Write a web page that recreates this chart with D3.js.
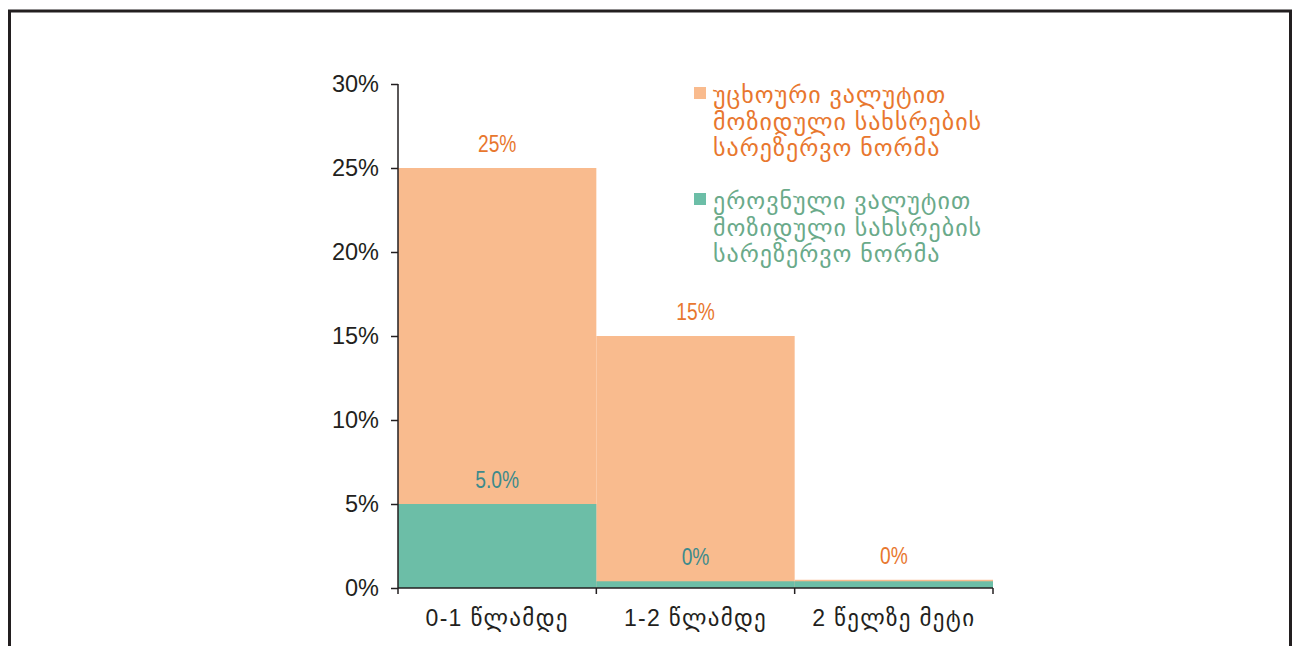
<!DOCTYPE html>
<html>
<head>
<meta charset="utf-8">
<script src="https://cdn.jsdelivr.net/npm/d3@7"></script>
<style>
  html, body { margin: 0; padding: 0; background: #fff; }
  svg { display: block; }
</style>
</head>
<body>
<script>
// Reserve requirement norms by maturity of attracted funds
const categories = ["0-1 წლამდე", "1-2 წლამდე", "2 წელზე მეტი"];
const foreignValues = [0.25, 0.15, 0.0049];
const foreignLabels = ["25%", "15%", "0%"];
const nationalValues = [0.05, 0.004, 0.004];
const nationalLabels = ["5.0%", "0%", null];
const yTicks = [0, 0.05, 0.10, 0.15, 0.20, 0.25, 0.30];
const legendForeign = ["უცხოური ვალუტით", "მოზიდული სახსრების", "სარეზერვო ნორმა"];
const legendNational = ["ეროვნული ვალუტით", "მოზიდული სახსრების", "სარეზერვო ნორმა"];

const W = 1293, H = 646;
const font = "'Liberation Sans', Arial, 'DejaVu Sans', sans-serif";
const ink = "#231f20";
const orangeFill = "#f9bb8e", greenFill = "#6cbea7";
const orangeText = "#e8772e", greenText = "#6aaa8a", tealText = "#3d8a8c";

const svg = d3.select("body").append("svg").attr("width", W).attr("height", H);

// outer frame
svg.append("rect")
  .attr("x", 9.5).attr("y", 11).attr("width", 1281).attr("height", H + 20)
  .attr("fill", "none").attr("stroke", ink).attr("stroke-width", 3);

const x = d3.scaleBand().domain(categories).range([398, 993]).paddingInner(0).paddingOuter(0);
const y = d3.scaleLinear().domain([0, 0.30]).range([588, 84]);

// bars: foreign currency first, national currency overlaid
svg.append("g").selectAll("rect").data(categories).join("rect")
  .attr("x", d => x(d)).attr("width", x.bandwidth())
  .attr("y", (d, i) => y(foreignValues[i]))
  .attr("height", (d, i) => y(0) - y(foreignValues[i]))
  .attr("fill", orangeFill);

svg.append("g").selectAll("rect").data(categories).join("rect")
  .attr("x", d => x(d)).attr("width", x.bandwidth())
  .attr("y", (d, i) => y(nationalValues[i]))
  .attr("height", (d, i) => y(0) - y(nationalValues[i]))
  .attr("fill", greenFill);

// value labels (condensed face)
function valueLabel(vals, labels, color) {
  svg.append("g").selectAll("text")
    .data(categories.map((c, i) => ({ c, v: vals[i], t: labels[i] })).filter(d => d.t))
    .join("text")
    .attr("transform", d => `translate(${x(d.c) + x.bandwidth() / 2},${y(d.v) - 16}) scale(0.8,1)`)
    .attr("text-anchor", "middle")
    .attr("font-family", font).attr("font-size", 24)
    .attr("fill", color)
    .text(d => d.t);
}
valueLabel(foreignValues, foreignLabels, orangeText);
valueLabel(nationalValues, nationalLabels, tealText);

// y axis
const yAxis = svg.append("g").attr("transform", "translate(398,0)")
  .call(d3.axisLeft(y).tickValues(yTicks).tickFormat(d3.format(".0%")).tickSize(7).tickPadding(12));
yAxis.select(".domain").attr("stroke", ink).attr("stroke-width", 1.5).attr("d", "M0,84V588");
yAxis.selectAll(".tick line").attr("stroke", ink).attr("stroke-width", 1.5);
yAxis.selectAll(".tick text").attr("font-family", font).attr("font-size", 23.5).attr("fill", ink);

// x axis with boundary ticks
const xAxis = svg.append("g").attr("transform", "translate(0,588)");
xAxis.append("line").attr("x1", 398).attr("x2", 993).attr("stroke", ink).attr("stroke-width", 1.5);
const bounds = categories.map(c => x(c)).concat([x(categories[categories.length - 1]) + x.bandwidth()]);
xAxis.selectAll("line.b").data(bounds).join("line").attr("class", "b")
  .attr("x1", d => d).attr("x2", d => d).attr("y1", 0).attr("y2", 6)
  .attr("stroke", ink).attr("stroke-width", 1.5);
xAxis.selectAll("text").data(categories).join("text")
  .attr("x", d => x(d) + x.bandwidth() / 2).attr("y", 38)
  .attr("text-anchor", "middle")
  .attr("font-family", font).attr("font-size", 23).attr("letter-spacing", 1.3).attr("fill", ink)
  .text(d => d);

// legend
function legendBlock(top, lines, fill, color) {
  const g = svg.append("g");
  g.append("rect").attr("x", 694).attr("y", top).attr("width", 12).attr("height", 12).attr("fill", fill);
  g.selectAll("text").data(lines).join("text")
    .attr("x", 713).attr("y", (d, i) => top + 16 + i * 26.5)
    .attr("font-family", font).attr("font-size", 24).attr("letter-spacing", 1).attr("fill", color)
    .text(d => d);
}
legendBlock(87, legendForeign, orangeFill, orangeText);
legendBlock(193, legendNational, greenFill, greenText);
</script>
</body>
</html>
